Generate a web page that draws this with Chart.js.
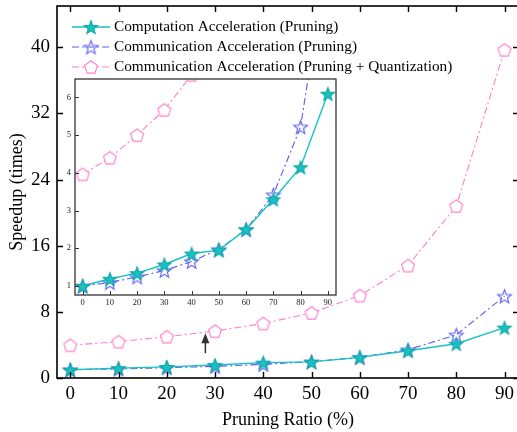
<!DOCTYPE html>
<html>
<head>
<meta charset="utf-8">
<script src="https://cdn.jsdelivr.net/npm/chart.js@4.4.1/dist/chart.umd.min.js"></script>
<style>
  html, body { margin: 0; padding: 0; background: #fff; overflow: hidden; }
  #wrap { position: relative; width: 517px; height: 432px; overflow: hidden; }
  #main { position: absolute; left: 0; top: 0; }
  #inset { position: absolute; left: 60px; top: 76px; }
</style>
</head>
<body>
<div id="wrap">
  <canvas id="main" width="522" height="432"></canvas>
  <canvas id="inset" width="280" height="236"></canvas>
</div>
<script>
"use strict";

// data
const ratios = [0, 10, 20, 30, 40, 50, 60, 70, 80, 90];
const computation = [1.0, 1.19, 1.34, 1.57, 1.86, 1.95, 2.5, 3.3, 4.15, 6.1];
const communication = [1.0, 1.09, 1.24, 1.41, 1.65, 1.97, 2.5, 3.42, 5.22, 9.9];
const quantized = [3.96, 4.4, 5.0, 5.67, 6.6, 7.87, 9.97, 13.6, 20.8, 39.7];

const mainYTicks = [0, 8, 16, 24, 32, 40];
const insetYTicks = [1, 2, 3, 4, 5, 6];

const labels = [
  "Computation Acceleration (Pruning)",
  "Communication Acceleration (Pruning)",
  "Communication Acceleration (Pruning + Quantization)",
];

// arrow pointing at the inset (x, from y, to y in main data units)
const arrow = { x: 28, from: 3.0, to: 5.4 };

const FONT = "'Liberation Serif', 'Times New Roman', serif";
const TEAL = "#19c2c2";
const BLUE = "#5c5cf2";
const PINK = "#ff80c8";

// marker images
function makeMarker(kind, fill, stroke, r) {
  const size = Math.ceil(r * 2 + 4);
  const c = document.createElement("canvas");
  c.width = size;
  c.height = size;
  const g = c.getContext("2d");
  const cx = size / 2, cy = size / 2 + (kind === "star" ? 0.8 : 0.6);
  g.beginPath();
  const n = kind === "star" ? 10 : 5;
  for (let i = 0; i < n; i++) {
    const ang = -Math.PI / 2 + (i * 2 * Math.PI) / n;
    const rad = kind === "star" && i % 2 ? r * 0.42 : r;
    const px = cx + rad * Math.cos(ang), py = cy + rad * Math.sin(ang);
    i ? g.lineTo(px, py) : g.moveTo(px, py);
  }
  g.closePath();
  if (fill) { g.fillStyle = fill; g.fill(); }
  g.lineWidth = 1.1;
  g.strokeStyle = stroke;
  g.stroke();
  return c;
}

const tealStar = makeMarker("star", TEAL, "#12a8a8", 7);
const blueStar = makeMarker("star", null, BLUE, 7.2);
const pinkPent = makeMarker("pent", "#fff", PINK, 6.8);

function datasets() {
  return [
    {
      label: labels[0], data: computation, borderColor: TEAL, borderWidth: 1.4,
      pointStyle: tealStar, order: 1,
    },
    {
      label: labels[1], data: communication, borderColor: BLUE, borderWidth: 1.1,
      borderDash: [7, 3, 2, 3], pointStyle: blueStar, order: 2,
    },
    {
      label: labels[2], data: quantized, borderColor: PINK, borderWidth: 1.1,
      borderDash: [7, 3, 2, 3], pointStyle: pinkPent, order: 3,
    },
  ].map((d) => Object.assign(d, {
    data: d.data.map((v, i) => ({ x: ratios[i], y: v })),
    fill: false, tension: 0, backgroundColor: d.borderColor,
  }));
}

// fixed scale box, no label overhang padding
function fixBox(prop, size) {
  return function (s) {
    s[prop] = size;
    s.paddingTop = 0; s.paddingBottom = 0;
    s.paddingLeft = 0; s.paddingRight = 0;
  };
}

// frame with inward tick marks
const framePlugin = {
  id: "frame",
  afterDraw(chart, args, opts) {
    const { ctx, chartArea: a, scales: { x, y } } = chart;
    ctx.save();
    ctx.strokeStyle = opts.color;
    ctx.lineWidth = opts.width;
    ctx.strokeRect(a.left, a.top, a.right - a.left, a.bottom - a.top);
    const L = opts.tick;
    ctx.beginPath();
    x.ticks.forEach((t) => {
      const px = Math.round(x.getPixelForValue(t.value)) + 0.5;
      ctx.moveTo(px, a.bottom); ctx.lineTo(px, a.bottom - L);
      if (opts.mirror) { ctx.moveTo(px, a.top); ctx.lineTo(px, a.top + L); }
    });
    y.ticks.forEach((t) => {
      const py = Math.round(y.getPixelForValue(t.value)) + 0.5;
      ctx.moveTo(a.left, py); ctx.lineTo(a.left + L, py);
      if (opts.mirror) { ctx.moveTo(a.right, py); ctx.lineTo(a.right - L, py); }
    });
    ctx.lineWidth = opts.tickWidth;
    ctx.stroke();
    ctx.restore();
  },
};

// legend drawn as line + marker
const legendPlugin = {
  id: "lineLegend",
  afterDraw(chart, args, opts) {
    const { ctx } = chart;
    ctx.save();
    ctx.font = "15.3px " + FONT;
    ctx.textBaseline = "middle";
    ctx.fillStyle = "#000";
    chart.data.datasets.forEach((d, i) => {
      const yy = opts.top + i * opts.step;
      ctx.beginPath();
      ctx.strokeStyle = d.borderColor;
      ctx.lineWidth = d.borderWidth;
      ctx.setLineDash(d.borderDash || []);
      ctx.moveTo(opts.left, yy);
      ctx.lineTo(opts.left + opts.len, yy);
      ctx.stroke();
      ctx.setLineDash([]);
      const m = d.pointStyle;
      ctx.drawImage(m, opts.left + opts.len / 2 - m.width / 2, yy - m.height / 2);
      ctx.fillText(d.label, opts.left + opts.len + 4, yy);
    });
    ctx.restore();
  },
};

const arrowPlugin = {
  id: "arrow",
  afterDraw(chart) {
    const { ctx, scales: { x, y } } = chart;
    const px = x.getPixelForValue(arrow.x);
    const y0 = y.getPixelForValue(arrow.from);
    const y1 = y.getPixelForValue(arrow.to);
    ctx.save();
    ctx.strokeStyle = "#333";
    ctx.fillStyle = "#333";
    ctx.lineWidth = 1.5;
    ctx.beginPath();
    ctx.moveTo(px, y0);
    ctx.lineTo(px, y1 + 8);
    ctx.stroke();
    ctx.beginPath();
    ctx.moveTo(px, y1);
    ctx.lineTo(px - 4, y1 + 10);
    ctx.lineTo(px + 4, y1 + 10);
    ctx.closePath();
    ctx.fill();
    ctx.restore();
  },
};

// main chart
new Chart(document.getElementById("main"), {
  type: "line",
  data: { datasets: datasets() },
  options: {
    responsive: false,
    animation: false,
    layout: { autoPadding: false, padding: { top: 6, right: 3, left: 0, bottom: 0 } },
    plugins: {
      legend: { display: false },
      tooltip: { enabled: false },
      frame: { color: "#000", width: 1.6, tick: 6, tickWidth: 1.4, mirror: true },
      lineLegend: { left: 72, len: 38, top: 27, step: 20 },
    },
    elements: { point: { radius: 7 } },
    scales: {
      x: {
        type: "linear", min: -2.75, max: 93,
        afterBuildTicks: (s) => { s.ticks = ratios.map((v) => ({ value: v })); },
        afterFit: fixBox("height", 54),
        grid: { display: false, drawTicks: false, tickLength: 0 }, border: { display: false },
        ticks: { color: "#000", font: { family: FONT, size: 19 }, padding: 5, maxRotation: 0 },
        title: { display: true, text: "Pruning Ratio (%)", color: "#000",
          font: { family: FONT, size: 18 }, padding: { bottom: 1 } },
      },
      y: {
        type: "linear", min: 0, max: 45,
        afterBuildTicks: (s) => { s.ticks = mainYTicks.map((v) => ({ value: v })); },
        afterFit: fixBox("width", 57),
        grid: { display: false, drawTicks: false, tickLength: 0 }, border: { display: false },
        ticks: { color: "#000", font: { family: FONT, size: 19 }, padding: 7 },
        title: { display: true, text: "Speedup (times)", color: "#000",
          font: { family: FONT, size: 18 }, padding: { top: 6 } },
      },
    },
  },
  plugins: [framePlugin, legendPlugin, arrowPlugin],
});

// zoomed inset
new Chart(document.getElementById("inset"), {
  type: "line",
  data: { datasets: datasets() },
  options: {
    responsive: false,
    animation: false,
    layout: { autoPadding: false, padding: { top: 3, right: 4, left: 0, bottom: 2 } },
    plugins: {
      legend: { display: false },
      tooltip: { enabled: false },
      frame: { color: "#333", width: 1.3, tick: 4, tickWidth: 1, mirror: false },
    },
    elements: { point: { radius: 7 } },
    scales: {
      x: {
        type: "linear", min: -2.8, max: 93,
        afterBuildTicks: (s) => { s.ticks = ratios.map((v) => ({ value: v })); },
        afterFit: fixBox("height", 15),
        grid: { display: false, drawTicks: false, tickLength: 0 }, border: { display: false },
        ticks: { color: "#222", font: { family: FONT, size: 8.5 }, padding: 3, maxRotation: 0 },
      },
      y: {
        type: "linear", min: 0.76, max: 6.49,
        afterBuildTicks: (s) => { s.ticks = insetYTicks.map((v) => ({ value: v })); },
        afterFit: fixBox("width", 15),
        grid: { display: false, drawTicks: false, tickLength: 0 }, border: { display: false },
        ticks: { color: "#222", font: { family: FONT, size: 8.5 }, padding: 4 },
      },
    },
  },
  plugins: [framePlugin],
});
</script>
</body>
</html>
